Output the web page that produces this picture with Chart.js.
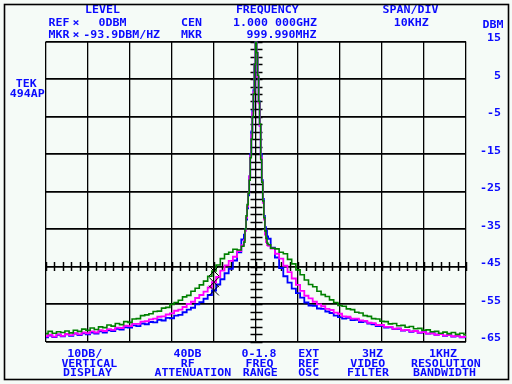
<!DOCTYPE html>
<html><head><meta charset="utf-8">
<script src="https://cdn.jsdelivr.net/npm/chart.js@4.4.0/dist/chart.umd.min.js"></script>
<style>
html,body{margin:0;padding:0;background:#f5fbf7;}
canvas{display:block;}
</style></head><body>
<canvas id="c" width="512" height="384"></canvas>
<script>
// ---- data (frequency offset from 1.000 000 GHz, kHz; levels in dBm) ----
const freqKHz = [-50,-49,-48,-47,-46,-45,-44,-43,-42,-41,-40,-39,-38,-37,-36,-35,-34,-33,-32,-31,-30,-29,-28,-27,-26,-25,-24,-23,-22,-21,-20,-19,-18,-17,-16,-15,-14,-13,-12,-11,-10,-9,-8,-7,-6,-5,-4,-3,
 -2.75,-2.5,-2.25,-2,-1.75,-1.5,-1.25,-1,-0.75,-0.5,-0.25,0,0.25,0.5,0.75,1,1.25,1.5,1.75,2,2.25,2.5,2.75,
 3,4,5,6,7,8,9,10,11,12,13,14,15,16,17,18,19,20,21,22,23,24,25,26,27,28,29,30,31,32,33,34,35,36,37,38,39,40,41,42,43,44,45,46,47,48,49,50];

const greenTrace = [-62.9,-62.3,-62.8,-62.4,-62.6,-62.2,-62.7,-62.0,-62.3,-61.7,
 -62.0,-61.4,-61.8,-61.1,-61.3,-60.6,-60.9,-60.2,-60.5,-59.7,
 -59.9,-59.0,-58.9,-58.1,-57.9,-57.6,-57.0,-56.9,-56.1,-55.9,
 -55.1,-54.6,-54.0,-53.1,-52.7,-51.6,-50.8,-49.9,-48.9,-47.6,
 -46.2,-44.6,-42.9,-41.7,-41.2,-40.4,-40.6,-39.6,
 -38.5,-35,-31.5,-28.5,-25.5,-22,-16,-11,-5,1,9,15,12,6,-1,-7,-16.5,-22.5,-27.5,-32,-35.5,-37.5,-38.8,
 -39.2,-40.1,-40.3,-41.2,-41.6,-43.1,-44.3,-45.9,-47.2,-48.6,
 -49.8,-50.4,-51.6,-52.5,-53.0,-53.9,-54.6,-55.4,-55.6,-56.3,
 -56.5,-57.2,-57.4,-58.1,-58.3,-58.9,-59.0,-59.6,-59.7,-60.3,
 -60.2,-60.8,-60.7,-61.2,-61.0,-61.6,-61.5,-62.0,-61.9,-62.4,
 -62.3,-62.8,-62.5,-62.9,-62.6,-63.1,-62.8,-63.2];

const magentaTrace = [-63.6,-63.2,-63.7,-63.1,-63.5,-63.0,-63.3,-62.8,-63.1,-62.6,
 -62.8,-62.3,-62.6,-62.0,-62.2,-61.7,-61.9,-61.3,-61.4,-60.8,
 -60.9,-60.3,-60.3,-59.7,-59.6,-59.1,-58.9,-58.4,-58.3,-57.8,
 -57.5,-56.8,-56.5,-55.8,-55.0,-54.4,-53.4,-52.6,-51.7,-50.6,
 -49.2,-47.8,-46.1,-44.7,-43.5,-42.4,-40.9,-39.3,
 -38,-35.5,-32,-29,-25.5,-21,-15.5,-10,-4,1.5,9,15,12,5.5,-1.5,-7.5,-16,-22.5,-28,-32.5,-36.5,-38.5,-39.3,
 -39.5,-40.2,-41.6,-42.9,-44.8,-46.5,-48.2,-49.9,-51.5,-52.8,
 -53.5,-54.4,-55.1,-55.6,-56.3,-56.6,-57.3,-57.6,-58.3,-58.4,
 -58.9,-58.9,-59.4,-59.5,-60.0,-60.1,-60.6,-60.6,-61.1,-61.1,
 -61.6,-61.5,-62.0,-61.9,-62.3,-62.2,-62.6,-62.5,-62.9,-62.8,
 -63.2,-63.0,-63.4,-63.3,-63.6,-63.5,-63.8,-63.7];

const blueTrace = [-63.9,-63.4,-63.8,-63.2,-63.6,-63.1,-63.5,-62.9,-63.3,-62.8,
 -63.1,-62.6,-62.9,-62.3,-62.6,-62.0,-62.2,-61.6,-61.8,-61.2,
 -61.3,-60.7,-60.9,-60.2,-60.4,-59.8,-59.9,-59.2,-59.4,-58.7,
 -58.8,-58.1,-57.9,-57.2,-56.5,-56.0,-55.1,-54.5,-53.6,-52.6,
 -51.4,-49.8,-48.4,-46.8,-45.6,-43.4,-41.2,-37.8,
 -36.5,-35,-32.5,-29.5,-26,-21,-15,-9,-3.5,2,9,15,12,5.5,-1,-7.5,-15,-22,-27,-31.5,-34.5,-35.5,-37,
 -37.6,-40.0,-42.6,-45.4,-47.6,-49.3,-50.9,-52.1,-53.3,-54.6,
 -55.4,-55.5,-56.2,-56.3,-57.0,-57.4,-58.1,-58.5,-58.9,-58.7,
 -59.3,-59.2,-59.8,-59.7,-60.2,-60.4,-60.9,-60.8,-61.3,-61.2,
 -61.7,-61.6,-62.1,-61.9,-62.4,-62.2,-62.7,-62.5,-62.9,-62.8,
 -63.2,-63.0,-63.5,-63.3,-63.7,-63.5,-63.9,-63.8];

const markerFreqKHz = [-10, -10, -10];
const markerLevels = [-46.2, -49.2, -51.4];
const dbmTicks = [15, 5, -5, -15, -25, -35, -45, -55, -65];

// ---- text layout (centre x, centre y) ----
const TEXTS = [
  ['LEVEL',102.5,9.5],['FREQUENCY',267.3,9.5],['SPAN/DIV',410.5,9.5],
  ['REF',59,22.7],['\u00d7',76,22.7],['0DBM',112.5,22.7],['CEN',191.5,22.7],['1.000 000GHZ',275,22.7],['10KHZ',411.2,22.7],
  ['MKR',59,35],['\u00d7',76,35],['-93.9DBM/HZ',121.7,35],['MKR',191.5,35],['999.990MHZ',281.5,35],
  ['DBM',493,25],
  ['TEK',26.3,83.3],['494AP',27.2,93.3],
  ['10DB/',84.8,354],['40DB',187.5,354],['0-1.8',259,354],['EXT',308.8,354],['3HZ',372.5,354],['1KHZ',443,354],
  ['VERTICAL',89.3,363.3],['RF',187.8,363.3],['FREQ',259.5,363.3],['REF',308.8,363.3],['VIDEO',367.8,363.3],['RESOLUTION',445.8,363.3],
  ['DISPLAY',87.5,372.3],['ATTENUATION',192.8,372.3],['RANGE',260.2,372.3],['OSC',308.8,372.3],['FILTER',368,372.3],['BANDWIDTH',444.5,372.3]
];
const TEXT_COLOR = '#0a0aff';
const FONT = 'bold 11.6px "DejaVu Sans Mono"';
const TEXT_DY = 0.9;

function pts(vals){ return freqKHz.map((f,i)=>({x:f,y:vals[i]})); }
function drawTxt(ctx,s,cx,cy,align){
  ctx.save(); ctx.translate(cx,cy+TEXT_DY); ctx.scale(1,0.85);
  ctx.textAlign=align||'center'; ctx.textBaseline='middle'; ctx.fillText(s,0,0); ctx.restore();
}

const decor = {
  id:'decor',
  beforeDraw(chart){
    const ctx=chart.ctx; ctx.save(); ctx.fillStyle='#f5fbf7'; ctx.fillRect(0,0,chart.width,chart.height); ctx.restore();
  },
  beforeDatasetsDraw(chart){
    const ctx=chart.ctx, xs=chart.scales.x, ys=chart.scales.y;
    ctx.save(); ctx.strokeStyle='#000'; ctx.lineWidth=1.5;
    const cx=Math.round(xs.getPixelForValue(0))+0.5;
    for(let v=-65; v<=15; v+=2){
      const y=Math.round(ys.getPixelForValue(v))+0.5;
      ctx.beginPath(); ctx.moveTo(cx-6,y); ctx.lineTo(cx+6,y); ctx.stroke();
    }
    const cy=ys.getPixelForValue(-45);
    for(let f=-50; f<=50; f+=2){
      const x=Math.round(xs.getPixelForValue(f))+0.5;
      ctx.beginPath(); ctx.moveTo(x,cy-4.5); ctx.lineTo(x,cy+4.5); ctx.stroke();
    }
    ctx.restore();
  },
  afterDraw(chart){
    const ctx=chart.ctx, ys=chart.scales.y;
    ctx.save();
    ctx.fillStyle=TEXT_COLOR; ctx.font=FONT;
    TEXTS.forEach(t=>drawTxt(ctx,t[0],t[1],t[2]));
    dbmTicks.forEach(v=>drawTxt(ctx,String(v),501,ys.getPixelForValue(v)-3.5,'right'));
    ctx.strokeStyle='#000'; ctx.lineWidth=1.6;
    ctx.strokeRect(4.5,4.5,504,375);
    ctx.restore();
  }
};

new Chart(document.getElementById('c'),{
  type:'line',
  data:{datasets:[
    {type:'scatter',label:'markers',data:markerFreqKHz.map((f,i)=>({x:f,y:markerLevels[i]})),pointStyle:'crossRot',pointRadius:7,borderColor:'#000',backgroundColor:'#000',borderWidth:1,order:0},
    {label:'green',data:pts(greenTrace),borderColor:'#008000',borderWidth:1.6,pointRadius:0,stepped:'middle',order:1},
    {label:'magenta',data:pts(magentaTrace),borderColor:'#ff00ff',borderWidth:1.8,pointRadius:0,stepped:'middle',order:2},
    {label:'blue',data:pts(blueTrace),borderColor:'#0000ff',borderWidth:1.8,pointRadius:0,stepped:'middle',order:3}
  ]},
  options:{
    responsive:false, animation:false, devicePixelRatio:1,
    layout:{padding:{left:46,right:46,top:41.5,bottom:42.5}},
    plugins:{legend:{display:false},tooltip:{enabled:false},title:{display:false}},
    scales:{
      x:{type:'linear',min:-50,max:50,ticks:{stepSize:10,display:false},grid:{color:'#000',lineWidth:1.3,drawTicks:false},border:{display:false},afterFit(s){s.height=0;}},
      y:{type:'linear',min:-65,max:15,ticks:{stepSize:10,display:false},grid:{color:'#000',lineWidth:1.8,drawTicks:false},border:{display:false},afterFit(s){s.width=0;}}
    }
  },
  plugins:[decor]
});
</script>
</body></html>
